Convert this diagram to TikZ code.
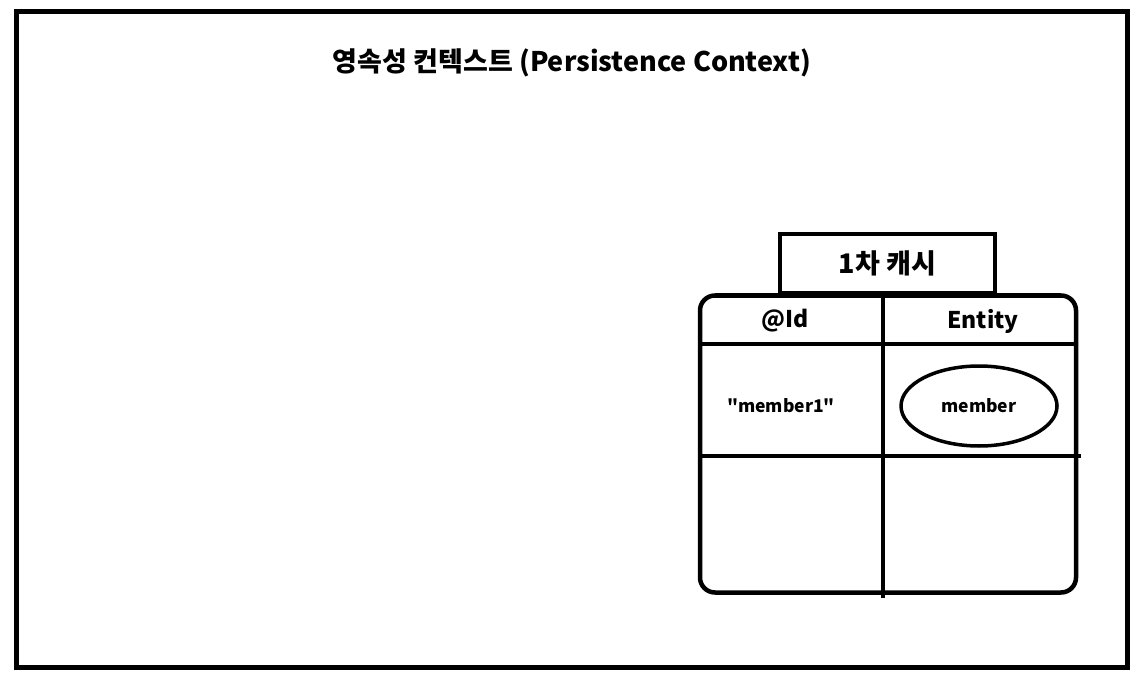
\documentclass[tikz,border=0pt]{standalone}
\usepackage{fontspec}
\setmainfont{Noto Sans CJK KR}[Ligatures=TeXOff]
\usetikzlibrary{
  shapes.geometric,
  positioning,
  calc
}
\newcommand{\fsz}[1]{\fontsize{#1}{#1}\selectfont\bfseries}
\tikzset{
  %%── 바깥 틀 ──────────────────────────────
  outerbox/.style = {
    rectangle, draw = black, line width = 4.5pt,
    minimum width = 1111pt, minimum height = 656pt, inner sep = 0pt
  },
  %%── 캐시 표 ──────────────────────────────
  tabbox/.style = {
    rectangle, draw = black, line width = 4.5pt,
    minimum width = 215pt, minimum height = 59pt, inner sep = 0pt
  },
  cachebox/.style = {
    rectangle, rounded corners = 15pt, draw = black, line width = 4.5pt,
    minimum width = 376pt, minimum height = 297pt, inner sep = 0pt
  },
  rule/.style  = {line width = 4.5pt, color = black},
  headtxt/.style = {font = \fsz{23}},
  celltxt/.style = {font = \fsz{17.5}},
  entobj/.style = {
    ellipse, draw = black, line width = 3.5pt,
    minimum width = 156pt, minimum height = 80pt, font = \fsz{17.5}
  },
}

\begin{document}
\begin{tikzpicture}[x = 1pt, y = -1pt]

  \useasboundingbox (0,0) rectangle (1147,684);

  \node[outerbox] (ctx) at (572,339.5) {};
  \node[font = \fsz{27}] (title) at (572,63)
    {영속성 컨텍스트 (Persistence Context)};

  %% 1차 캐시
  \node[cachebox] (cache) at (888,444) {};
  \node[tabbox, anchor = south] (tab) at (887.5,295.5) {};
  \node[font = \fsz{27}] (tabname) at (tab.center) {1차 캐시};

  %% 구분선
  \coordinate (colx) at (883,598);
  \coordinate (rowa) at (cache.west |- 0,344);
  \coordinate (rowb) at (cache.west |- 0,456);
  \draw[rule] (cache.north -| colx) -- (colx);
  \draw[rule] (rowa) -- (rowa -| cache.east);
  \draw[rule] (rowb) -- ($(rowb -| cache.east) + (3,0)$);

  %% 칸
  \node[headtxt] (idhead) at (785,321) {@Id};
  \node[headtxt] (enthead) at (983,321) {Entity};
  \node[celltxt] (idval) at (781,406) {"member1"};
  \node[entobj] (member) at (979,406) {member};

\end{tikzpicture}
\end{document}
